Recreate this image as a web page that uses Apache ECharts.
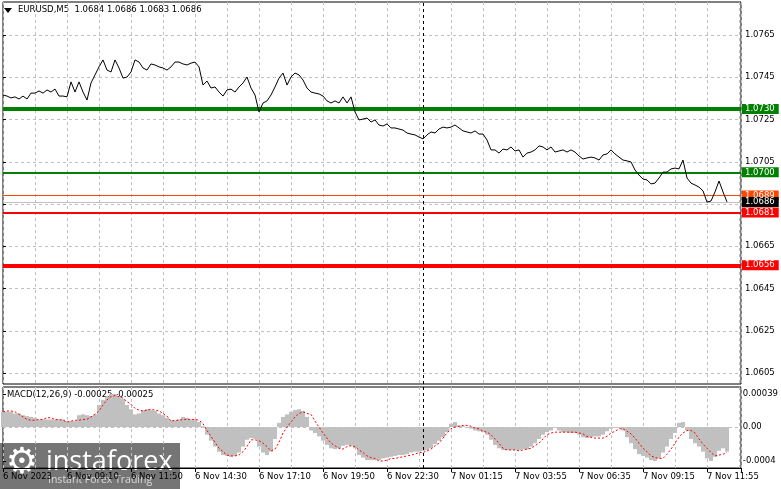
<!DOCTYPE html>
<html><head><meta charset="utf-8">
<script src="https://cdn.jsdelivr.net/npm/echarts@6/dist/echarts.min.js"></script>
<style>html,body{margin:0;padding:0;background:#fff}#c{width:781px;height:489px}</style>
</head><body><div id="c"></div>
<script>
// ---------------- data ----------------
const symbolTitle = 'EURUSD,M5  1.0684 1.0686 1.0683 1.0686';
const macdTitle = 'MACD(12,26,9) -0.00025 -0.00025';
const barsPerSample = 2;          // one stored value every 2 five-minute bars
const gridStepBars = 16;
const labelStepBars = 32;
const periodSeparatorBar = 210;   // 7 Nov 00:00
const timeLabels = ['6 Nov 2023','6 Nov 09:10','6 Nov 11:50','6 Nov 14:30','6 Nov 17:10','6 Nov 19:50',
  '6 Nov 22:30','7 Nov 01:15','7 Nov 03:55','7 Nov 06:35','7 Nov 09:15','7 Nov 11:55'];
const priceTickMin = 1.0605, priceTickMax = 1.0765, priceTickStep = 0.002;
const macdTickValues = [-0.0004, 0, 0.00039];
const macdTickLabels = ['-0.0004', '0.00', '0.00039'];
const macdTickStep = 0.0004;

const prices = [
1.07366,1.07361,1.07352,1.07357,1.07347,1.07361,1.07347,1.07375,1.07375,1.07385,
1.07375,1.07390,1.07380,1.07394,1.07361,1.07361,1.07357,1.07428,1.07380,1.07428,
1.07380,1.07342,1.07423,1.07461,1.07499,1.07532,1.07484,1.07475,1.07532,1.07494,
1.07446,1.07451,1.07475,1.07532,1.07522,1.07494,1.07484,1.07513,1.07508,1.07499,
1.07494,1.07484,1.07499,1.07522,1.07522,1.07513,1.07508,1.07517,1.07522,1.07499,
1.07413,1.07432,1.07399,1.07404,1.07380,1.07361,1.07390,1.07394,1.07380,1.07404,
1.07423,1.07451,1.07399,1.07366,1.07286,1.07328,1.07338,1.07366,1.07404,1.07446,
1.07470,1.07413,1.07451,1.07470,1.07461,1.07437,1.07399,1.07380,1.07375,1.07371,
1.07361,1.07338,1.07328,1.07338,1.07328,1.07357,1.07328,1.07357,1.07286,1.07248,
1.07252,1.07257,1.07238,1.07248,1.07224,1.07219,1.07229,1.07210,1.07210,1.07205,
1.07200,1.07186,1.07181,1.07177,1.07167,1.07158,1.07177,1.07191,1.07186,1.07205,
1.07214,1.07210,1.07214,1.07224,1.07210,1.07196,1.07191,1.07186,1.07196,1.07181,
1.07181,1.07153,1.07106,1.07106,1.07091,1.07110,1.07106,1.07120,1.07101,1.07106,
1.07072,1.07091,1.07096,1.07106,1.07125,1.07120,1.07106,1.07120,1.07096,1.07101,
1.07106,1.07096,1.07106,1.07096,1.07077,1.07063,1.07068,1.07072,1.07068,1.07058,
1.07082,1.07087,1.07106,1.07087,1.07072,1.07058,1.07054,1.07049,1.07011,1.06987,
1.06968,1.06964,1.06945,1.06949,1.06973,1.07001,1.07001,1.07016,1.07020,1.07016,
1.07058,1.06973,1.06949,1.06940,1.06930,1.06912,1.06859,1.06864,1.06907,1.06959,
1.06907,1.06860];

const macdHist = [
0.00018,0.00018,0.00018,0.00016,0.00016,0.00014,0.00013,0.00012,0.00011,0.00009,
0.00009,0.00009,0.00009,0.00009,0.00009,0.00009,0.00007,0.00007,0.00007,0.00014,
0.00015,0.00014,0.00013,0.00015,0.00026,0.00032,0.00036,0.00039,0.00039,0.00036,
0.00033,0.00026,0.00021,0.00015,0.00016,0.00020,0.00021,0.00020,0.00019,0.00016,
0.00014,0.00011,0.00008,0.00008,0.00009,0.00012,0.00011,0.00009,0.00009,0.00006,
0.00001,-0.00009,-0.00016,-0.00023,-0.00029,-0.00033,-0.00034,-0.00035,-0.00034,-0.00030,
-0.00023,-0.00015,-0.00013,-0.00014,-0.00023,-0.00030,-0.00033,-0.00029,-0.00014,0.00005,
0.00012,0.00015,0.00018,0.00020,0.00021,0.00019,0.00012,-0.00004,-0.00007,-0.00011,
-0.00016,-0.00021,-0.00025,-0.00026,-0.00025,-0.00022,-0.00021,-0.00022,-0.00025,-0.00033,
-0.00036,-0.00039,-0.00039,-0.00039,-0.00039,-0.00037,-0.00036,-0.00035,-0.00034,-0.00033,
-0.00033,-0.00032,-0.00030,-0.00029,-0.00029,-0.00028,-0.00027,-0.00025,-0.00020,-0.00016,
-0.00012,-0.00006,0.00004,0.00006,0.00002,0.00001,-0.00001,-0.00002,-0.00004,-0.00005,
-0.00006,-0.00009,-0.00015,-0.00021,-0.00025,-0.00027,-0.00027,-0.00027,-0.00027,-0.00027,
-0.00026,-0.00026,-0.00023,-0.00019,-0.00014,-0.00009,-0.00006,-0.00004,-0.00001,-0.00004,
-0.00006,-0.00006,-0.00007,-0.00007,-0.00009,-0.00012,-0.00013,-0.00012,-0.00011,-0.00011,
-0.00009,-0.00005,-0.00002,-0.00001,-0.00001,-0.00004,-0.00012,-0.00019,-0.00026,-0.00032,
-0.00034,-0.00036,-0.00039,-0.00040,-0.00037,-0.00030,-0.00023,-0.00014,-0.00007,0.00005,
0.00006,-0.00004,-0.00014,-0.00019,-0.00023,-0.00029,-0.00037,-0.00040,-0.00035,-0.00028,
-0.00025,-0.00029];

const macdSignal = [
0.00018,0.00019,0.00019,0.00018,0.00015,0.00012,0.00009,0.00008,0.00008,0.00009,
0.00009,0.00011,0.00011,0.00009,0.00009,0.00008,0.00006,0.00007,0.00008,0.00008,
0.00009,0.00009,0.00012,0.00015,0.00019,0.00026,0.00032,0.00036,0.00037,0.00036,
0.00034,0.00030,0.00027,0.00022,0.00020,0.00019,0.00020,0.00021,0.00020,0.00019,
0.00016,0.00013,0.00007,0.00008,0.00008,0.00009,0.00009,0.00009,0.00009,0.00008,
0.00004,-0.00004,-0.00011,-0.00018,-0.00025,-0.00029,-0.00033,-0.00034,-0.00034,-0.00033,
-0.00029,-0.00023,-0.00015,-0.00015,-0.00016,-0.00019,-0.00023,-0.00028,-0.00026,-0.00018,
-0.00007,0,0.00006,0.00012,0.00016,0.00018,0.00016,0.00015,0.00007,0,
-0.00007,-0.00013,-0.00019,-0.00022,-0.00025,-0.00026,-0.00023,-0.00022,-0.00023,-0.00027,
-0.00030,-0.00034,-0.00036,-0.00037,-0.00040,-0.00040,-0.00039,-0.00037,-0.00037,-0.00036,
-0.00035,-0.00034,-0.00033,-0.00032,-0.00030,-0.00030,-0.00028,-0.00026,-0.00022,-0.00019,
-0.00013,-0.00007,-0.00002,0,0.00001,0.00002,0.00002,0.00001,-0.00001,-0.00002,
-0.00005,-0.00006,-0.00009,-0.00014,-0.00019,-0.00025,-0.00027,-0.00027,-0.00027,-0.00028,
-0.00027,-0.00026,-0.00025,-0.00022,-0.00019,-0.00014,-0.00009,-0.00007,-0.00006,-0.00006,
-0.00006,-0.00006,-0.00006,-0.00006,-0.00007,-0.00008,-0.00011,-0.00012,-0.00013,-0.00013,
-0.00013,-0.00011,-0.00007,-0.00005,-0.00002,-0.00002,-0.00005,-0.00008,-0.00013,-0.00019,
-0.00025,-0.00029,-0.00034,-0.00036,-0.00037,-0.00037,-0.00032,-0.00026,-0.00019,-0.00012,
-0.00007,-0.00004,-0.00004,-0.00007,-0.00014,-0.00020,-0.00025,-0.00030,-0.00034,-0.00033,
-0.00032,-0.00030];

const levelValues = [1.0730, 1.0700, 1.0689, 1.0681, 1.0656];
const levelColors = ['#008000', '#008000', '#ff4500', '#ff0000', '#ff0000'];
const levelWidths = [4, 2, 1, 2, 4];
const currentPrice = 1.0686;

// ---------------- layout ----------------
const FONT = 'DejaVu Sans';
const FS = 8.5;
const W = 781;
const GL = 3, GR = 40;
const MAIN_TOP = 2, MAIN_BOTTOM = 384, PT_TOP = 35, PT_BOTTOM = 373;
const MACD_TOP = 387, MACD_BOTTOM = 468, MT_TOP = 394, MT_BOTTOM = 461;
const PX_PER_BAR = 2;
const xMax = (W - GR - GL) / PX_PER_BAR;

const pPerPx = (priceTickMax - priceTickMin) / (PT_BOTTOM - PT_TOP);
const mainYMin = priceTickMin - (MAIN_BOTTOM - PT_BOTTOM) * pPerPx;
const mainYMax = priceTickMax + (PT_TOP - MAIN_TOP) * pPerPx;
const mPerPx = (macdTickValues[2] - macdTickValues[0]) / (MT_BOTTOM - MT_TOP);
const macdYMin = macdTickValues[0] - (MACD_BOTTOM - MT_BOTTOM) * mPerPx;
const macdYMax = macdTickValues[2] + (MT_TOP - MACD_TOP) * mPerPx;

const toXY = arr => arr.map((v, k) => [k * barsPerSample, v]);
const dash = { color: '#c0c0c0', type: [3, 3], width: 1 };
const lblFont = { fontFamily: FONT, fontSize: FS, color: '#000' };

const gridRect = (top, bottom, show) => ({ left: GL, right: GR, top: top, height: bottom - top,
  show: show, borderColor: '#000', borderWidth: 1, backgroundColor: 'transparent' });

const plainX = (gi) => ({ type: 'value', gridIndex: gi, min: 0, max: xMax, interval: gridStepBars,
  axisLine: { show: false }, axisTick: { show: false }, axisLabel: { show: false },
  splitLine: { show: true, lineStyle: dash } });

const levelLines = levelValues.map((v, i) => ({
  yAxis: v,
  lineStyle: { color: levelColors[i], width: levelWidths[i], type: 'solid' },
  label: { backgroundColor: levelColors[i] }
}));
levelLines.push({ yAxis: currentPrice, lineStyle: { color: '#c0c0c0', width: 1, type: 'solid' },
  label: { backgroundColor: '#000' } });

const sepLine = () => ({ xAxis: periodSeparatorBar, lineStyle: { color: '#000', width: 1, type: [3, 3] },
  label: { show: false } });

const option = {
  animation: false,
  backgroundColor: '#fff',
  textStyle: { fontFamily: FONT },
  grid: [
    gridRect(MAIN_TOP, MAIN_BOTTOM, true),
    gridRect(PT_TOP, PT_BOTTOM, false),
    gridRect(MACD_TOP, MACD_BOTTOM, true),
    gridRect(MT_TOP, MT_BOTTOM, false),
    gridRect(MACD_TOP, MACD_BOTTOM, false)
  ],
  xAxis: [
    plainX(0),
    { type: 'value', gridIndex: 1, show: false, min: 0, max: xMax },
    plainX(2),
    { type: 'value', gridIndex: 3, show: false, min: 0, max: xMax },
    { type: 'value', gridIndex: 4, min: 0, max: xMax, interval: labelStepBars, position: 'bottom',
      axisLine: { show: true, lineStyle: { color: '#000', width: 1 } },
      axisTick: { show: true, length: 4, lineStyle: { color: '#000' } },
      splitLine: { show: false },
      axisLabel: Object.assign({ align: 'left', margin: 4,
        formatter: v => (Math.abs(v % labelStepBars) < 1e-6 ? (timeLabels[Math.round(v / labelStepBars)] || '') : '') }, lblFont) }
  ],
  yAxis: [
    { type: 'value', gridIndex: 0, show: false, min: mainYMin, max: mainYMax },
    { type: 'value', gridIndex: 1, position: 'right', min: priceTickMin, max: priceTickMax, interval: priceTickStep,
      axisLine: { show: false },
      axisTick: { show: true, length: 3, lineStyle: { color: '#000' } },
      splitLine: { show: true, lineStyle: dash },
      axisLabel: Object.assign({ margin: 4, formatter: v => v.toFixed(4) }, lblFont) },
    { type: 'value', gridIndex: 2, show: false, min: macdYMin, max: macdYMax },
    { type: 'value', gridIndex: 3, position: 'right', min: macdTickValues[0], max: macdTickValues[2], interval: macdTickStep,
      axisLine: { show: false },
      axisTick: { show: true, length: 3, lineStyle: { color: '#000' } },
      splitLine: { show: false },
      axisLabel: Object.assign({ margin: 4, showMaxLabel: true, showMinLabel: true,
        formatter: v => {
          let best = 0;
          macdTickValues.forEach((t, i) => { if (Math.abs(t - v) < Math.abs(macdTickValues[best] - v)) best = i; });
          return macdTickLabels[best];
        } }, lblFont) },
    { type: 'value', gridIndex: 4, show: false, min: 0, max: 1 }
  ],
  series: [
    { type: 'line', name: 'price', xAxisIndex: 0, yAxisIndex: 0, data: toXY(prices),
      symbol: 'none', silent: true, z: 5,
      lineStyle: { color: '#000', width: 1 },
      markLine: { silent: true, symbol: ['none', 'none'], animation: false, precision: 5,
        label: { show: true, position: 'end', distance: 1, color: '#fff', fontFamily: FONT, fontSize: FS,
          lineHeight: 9, padding: [1, 4, 0, 3], formatter: p => Number(p.value).toFixed(4) },
        data: levelLines.concat([sepLine()]) } },
    { type: 'bar', name: 'hist', xAxisIndex: 2, yAxisIndex: 2, data: toXY(macdHist),
      barWidth: 4, silent: true, itemStyle: { color: '#c0c0c0' },
      markLine: { silent: true, symbol: ['none', 'none'], animation: false, precision: 6, label: { show: false },
        data: [ { yAxis: 0, lineStyle: { color: '#c0c0c0', type: [3, 3], width: 1 } }, sepLine() ] } },
    { type: 'line', name: 'signal', xAxisIndex: 2, yAxisIndex: 2, data: toXY(macdSignal),
      symbol: 'none', silent: true, z: 5,
      lineStyle: { color: '#ff0000', width: 1, type: [2, 2] } }
  ],
  graphic: [
    { type: 'polygon', shape: { points: [[4, 8], [12, 8], [8, 13]] }, style: { fill: '#000' }, silent: true },
    { type: 'text', left: 18, top: 5, style: { text: symbolTitle, font: FS + 'px "' + FONT + '"', fill: '#000' }, silent: true },
    { type: 'text', left: 7, top: 390, style: { text: macdTitle, font: FS + 'px "' + FONT + '"', fill: '#000' }, silent: true },
    { type: 'group', left: 0, top: 443, z: 100, silent: true, children: [
      { type: 'rect', shape: { x: 0, y: 0, width: 180, height: 46 }, style: { fill: 'rgba(45,45,45,0.66)' } },
      { type: 'text', x: 22, y: 21, style: { text: '\u2699', font: '36px "DejaVu Sans"', fill: '#fff', align: 'center', verticalAlign: 'middle' } },
      { type: 'text', x: 46, y: 19, style: { text: 'instaforex', font: '27px "Open Sans"', fill: '#fff', verticalAlign: 'middle' } },
      { type: 'text', x: 48, y: 37, style: { text: 'Instant Forex Trading', font: '10.5px "Open Sans"', fill: 'rgba(255,255,255,0.72)', verticalAlign: 'middle' } }
    ] }
  ]
};

const chart = echarts.init(document.getElementById('c'), null, { renderer: 'canvas', width: 781, height: 489 });
chart.setOption(option);
</script>
</body></html>
